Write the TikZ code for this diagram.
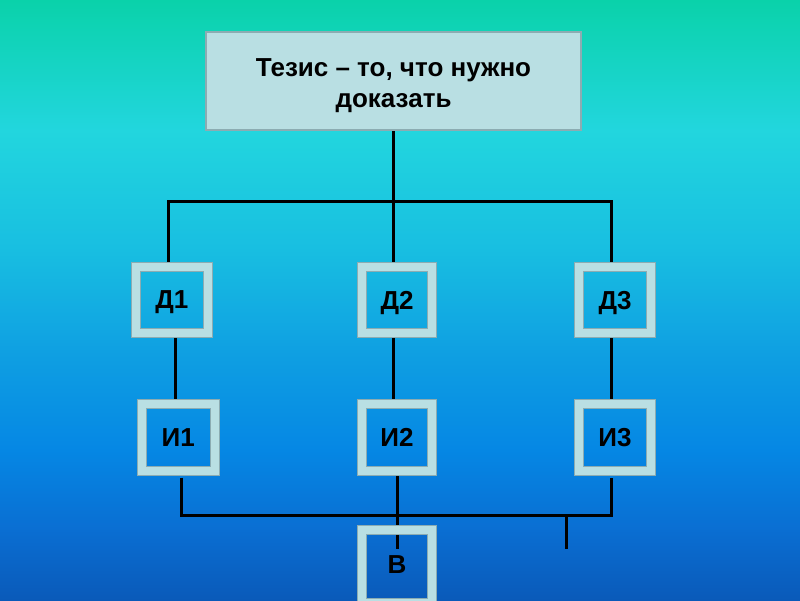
\documentclass[tikz,border=0pt]{standalone}
\usepackage{fontspec}
\setmainfont{Liberation Sans}
\usetikzlibrary{calc}
\pgfdeclarelayer{background}
\pgfsetlayers{background,main}
\definecolor{framelight}{RGB}{185,223,227}
\definecolor{framegray}{RGB}{140,172,178}
\definecolor{g0}{RGB}{10,210,170}
\definecolor{g1}{RGB}{34,214,222}
\definecolor{g2}{RGB}{24,190,225}
\definecolor{g3}{RGB}{15,160,226}
\definecolor{g4}{RGB}{5,135,228}
\definecolor{g5}{RGB}{10,110,210}
\definecolor{g6}{RGB}{10,90,185}
\tikzset{
  framebox/.style={rectangle, draw=framegray, double=framelight, double distance=8pt,
    line width=1pt, inner sep=0pt, text depth=0pt, font=\bfseries\fontsize{26}{30}\selectfont},
  topbox/.style={rectangle, fill=framelight, draw=framegray, line width=1.5pt,
    minimum width=375pt, minimum height=98pt, inner sep=0pt,
    font=\bfseries\fontsize{26}{31}\selectfont},
  conn/.style={line width=3pt, black}
}
\begin{document}
\begin{tikzpicture}[x=1pt,y=-1pt]
\useasboundingbox (0,0) rectangle (800,600);
\begin{pgfonlayer}{background}
\fill[top color=g0,bottom color=g1] (0,0) rectangle (800,131);
\fill[top color=g1,bottom color=g2] (0,130) rectangle (800,251);
\fill[top color=g2,bottom color=g3] (0,250) rectangle (800,351);
\fill[top color=g3,bottom color=g4] (0,350) rectangle (800,451);
\fill[top color=g4,bottom color=g5] (0,450) rectangle (800,531);
\fill[top color=g5,bottom color=g6] (0,530) rectangle (800,600);
\end{pgfonlayer}

\node[topbox] (T) at (393.5,81) {\raisebox{-5pt}[\height][\depth]{\begin{tabular}{@{}c@{}}Тезис – то, что нужно\\доказать\end{tabular}}};

\node[framebox, minimum width=72.5pt, minimum height=66pt] (D1) at (171.75,300) {Д1};
\node[framebox, minimum width=70pt, minimum height=66pt] (D2) at (397,300) {Д2};
\node[framebox, minimum width=72pt, minimum height=66pt] (D3) at (615,300) {Д3};
\node[framebox, minimum width=72.5pt, minimum height=67pt] (I1) at (178.25,437.5) {И1};
\node[framebox, minimum width=70pt, minimum height=67pt] (I2) at (397,437.5) {И2};
\node[framebox, minimum width=72pt, minimum height=67pt] (I3) at (615,437.5) {И3};
\node[framebox, minimum width=70pt, minimum height=73pt] (B) at (397,566.5) {\raisebox{3pt}{В}};

\coordinate (b1) at (168,201);
\coordinate (b3) at (611.5,201);
\coordinate (m1) at (175,370);
\coordinate (m2) at (393,370);
\coordinate (m3) at (611.5,370);
\coordinate (c1) at (181,515);
\coordinate (c3) at (611.5,515);
\coordinate (v2) at (397,549);
\coordinate (t1) at (566,515);
\coordinate (t2) at (566,549);

\begin{pgfonlayer}{background}
\draw[conn] (T.south) -- (T.south |- D2.north);
\draw[conn] (D1.north -| b1) -- (b1) -- (b3) -- (D3.north -| b3);
\draw[conn] (m1 |- D1.south) -- (m1 |- I1.north);
\draw[conn] (m2 |- D2.south) -- (m2 |- I2.north);
\draw[conn] (m3 |- D3.south) -- (m3 |- I3.north);
\draw[conn] ([yshift=-6pt]I1.south -| c1) -- (c1) -- (c3) -- ([yshift=-6pt]I3.south -| c3);
\draw[conn] (I2.south) -- (v2);
\draw[conn] (t1) -- (t2);
\end{pgfonlayer}
\end{tikzpicture}
\end{document}
